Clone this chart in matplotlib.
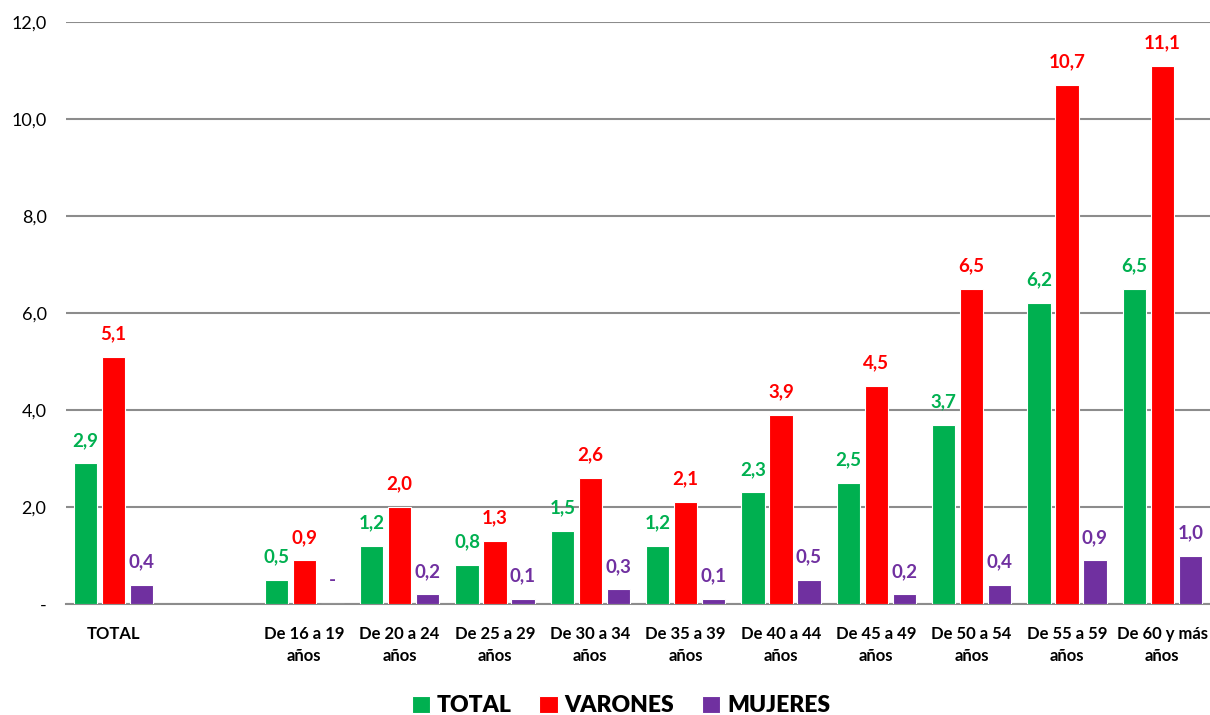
import numpy as np
import matplotlib.pyplot as plt

plt.rcParams['font.family'] = ['Lato', 'DejaVu Sans']

categories = ["TOTAL", "De 16 a 19\naños", "De 20 a 24\naños", "De 25 a 29\naños",
              "De 30 a 34\naños", "De 35 a 39\naños", "De 40 a 44\naños",
              "De 45 a 49\naños", "De 50 a 54\naños", "De 55 a 59\naños",
              "De 60 y más\naños"]
total = [2.9, 0.5, 1.2, 0.8, 1.5, 1.2, 2.3, 2.5, 3.7, 6.2, 6.5]
varones = [5.1, 0.9, 2.0, 1.3, 2.6, 2.1, 3.9, 4.5, 6.5, 10.7, 11.1]
mujeres = [0.4, 0.0, 0.2, 0.1, 0.3, 0.1, 0.5, 0.2, 0.4, 0.9, 1.0]
yticks = [0, 2, 4, 6, 8, 10, 12]

series = [("TOTAL", total, "#00b050"), ("VARONES", varones, "#ff0000"),
          ("MUJERES", mujeres, "#7030a0")]

fig = plt.figure(figsize=(12.1, 7.15), dpi=100)
ax = fig.add_axes([66 / 1210, 111 / 715, 1 - 66 / 1210, 582 / 715])

# hueco vacío entre TOTAL y los grupos de edad
x = np.r_[0, np.arange(2, 12)]
w = 0.245
offs = [-0.293, 0, 0.293]

for (name, vals, col), off in zip(series, offs):
    bars = ax.bar(x + off, vals, w, color=col, edgecolor="white", linewidth=0.8,
                  label=name, zorder=3)
    for b, v in zip(bars, vals):
        txt = "-" if v == 0 else f"{v:.1f}".replace(".", ",")
        ax.text(b.get_x() + b.get_width() / 2, v + 0.3, txt, ha="center", va="bottom",
                color=col, fontsize=13.5, fontweight="bold")

ax.set_xlim(-0.5, 11.5)
ax.set_ylim(0, 12)
ax.set_yticks(yticks)
ax.set_yticklabels(["-" if t == 0 else f"{t:.1f}".replace(".", ",") for t in yticks],
                   fontsize=13)
ax.set_xticks(x)
ax.set_xticklabels(categories, fontsize=12, fontweight="bold", linespacing=1.45)
ax.tick_params(length=0)
ax.tick_params(axis="x", pad=16)
ax.tick_params(axis="y", pad=14)
ax.grid(axis="y", color="#8c8c8c", linewidth=1.5, zorder=0)
for s in ["left", "right", "top"]:
    ax.spines[s].set_visible(False)
ax.spines["bottom"].set_color("#8c8c8c")
ax.spines["bottom"].set_linewidth(1.5)

ax.legend(loc="center", bbox_to_anchor=(0.485, -0.175), ncol=3, frameon=False,
          prop={"size": 16.5, "weight": "heavy"}, handlelength=0.8, handleheight=0.8,
          handletextpad=0.3, columnspacing=1.2)

fig.savefig("out.png", dpi=100)
